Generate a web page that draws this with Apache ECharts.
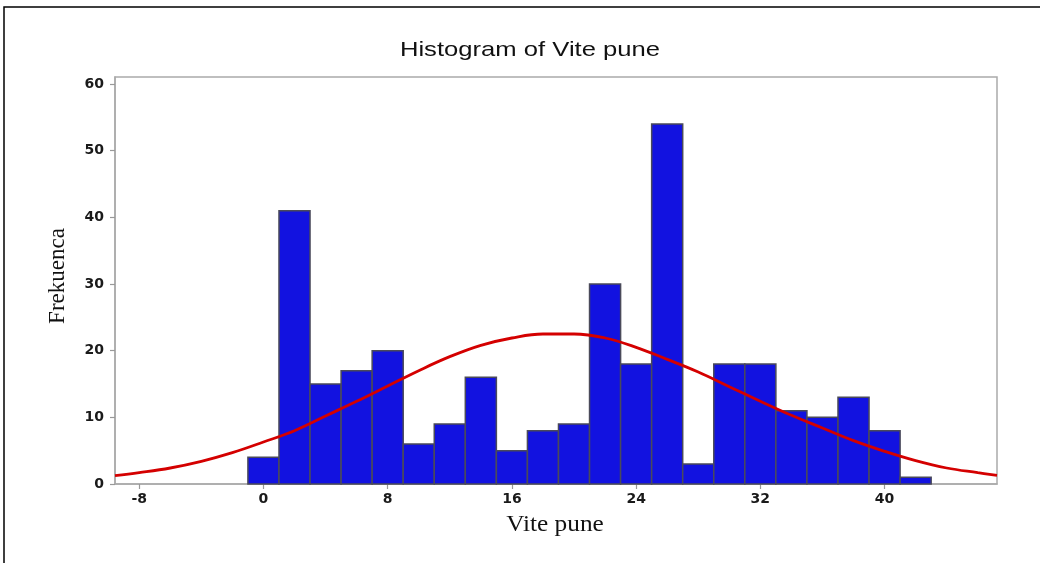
<!DOCTYPE html>
<html><head><meta charset="utf-8">
<script src="https://cdn.jsdelivr.net/npm/echarts@6/dist/echarts.min.js"></script>
<style>html,body{margin:0;padding:0;background:#fff}#c{width:1040px;height:563px}</style>
</head><body><div id="c"></div>
<script>
// Histogram bins (centre of each bin, width 2)
const binCenters = [0,2,4,6,8,10,12,14,16,18,20,22,24,26,28,30,32,34,36,38,40,42];
const counts     = [4,41,15,17,20,6,9,16,5,8,9,30,18,54,3,18,18,11,10,13,8,1];
const binWidth = 2;
// Fitted normal curve
const curveX = [-9.56,-8,-6,-4,-2,0,2,4,6,8,10,12,14,16,18,20,22,24,26,28,30,32,34,36,38,40,42,44,46,47.24];
const curveY = [1.25,1.7,2.4,3.4,4.7,6.3,8.0,10.2,12.4,14.7,17.0,19.1,20.8,21.9,22.5,22.5,21.9,20.5,18.7,16.8,14.6,12.4,10.3,8.4,6.5,4.9,3.5,2.4,1.7,1.3];
const xTicks = [-8,0,8,16,24,32,40];
const yTicks = [0,10,20,30,40,50,60];
const titleText = 'Histogram of Vite pune';
const xName = 'Vite pune';
const yName = 'Frekuenca';

const chart = echarts.init(document.getElementById('c'), null, {renderer:'canvas'});
const tickFont = {fontFamily:'DejaVu Sans', fontSize:14, fontWeight:'bold', color:'#1a1a1a'};
chart.setOption({
  animation:false,
  backgroundColor:'#fff',
  graphic:[
    {type:'rect', shape:{x:4, y:7, width:1100, height:620}, style:{fill:'none', stroke:'#000', lineWidth:1.5}, z:100},
    {type:'text', x:530, y:50, scaleX:1.22, style:{text:titleText, fill:'#111', font:'21px "Liberation Sans"', align:'center', verticalAlign:'middle'}},
    {type:'text', x:555, y:525, scaleX:1.1, style:{text:xName, fill:'#111', font:'23px "Liberation Serif"', align:'center', verticalAlign:'middle'}},
    {type:'text', x:58, y:276, rotation:Math.PI/2, style:{text:yName, fill:'#111', font:'23px "Liberation Serif"', align:'center', verticalAlign:'middle'}}
  ],
  grid:{left:115, top:77, right:43, bottom:79, show:true, borderColor:'#aaa', borderWidth:1.5, backgroundColor:'#fff'},
  xAxis:{type:'value', min:-9.56, max:47.24,
    axisLine:{show:true, onZero:false, lineStyle:{color:'#aaa', width:1.5}},
    axisTick:{show:true, length:5, customValues:xTicks, lineStyle:{color:'#999', width:1.2}},
    axisLabel:{customValues:xTicks, margin:8, ...tickFont},
    splitLine:{show:false}},
  yAxis:{type:'value', min:0, max:61.05,
    axisLine:{show:true, onZero:false, lineStyle:{color:'#aaa', width:1.5}},
    axisTick:{show:true, length:5, customValues:yTicks, lineStyle:{color:'#999', width:1.2}},
    axisLabel:{customValues:yTicks, margin:11, ...tickFont},
    splitLine:{show:false}},
  series:[
    {type:'custom', data: binCenters.map((c,i)=>[c,counts[i]]),
     encode:{x:0, y:1},
     renderItem:function(params, api){
       const c = api.value(0), v = api.value(1);
       const p0 = api.coord([c - binWidth/2, v]);
       const p1 = api.coord([c + binWidth/2, 0]);
       return {type:'rect', shape:{x:p0[0], y:p0[1], width:p1[0]-p0[0], height:p1[1]-p0[1]},
         style:{fill:'#1212e0', stroke:'#4a4a5a', lineWidth:1.5}};
     }, z:2},
    {type:'line', data: curveX.map((x,i)=>[x,curveY[i]]), smooth:0.4, symbol:'none',
     lineStyle:{color:'#d40000', width:2.8}, z:3}
  ]
});
</script></body></html>
